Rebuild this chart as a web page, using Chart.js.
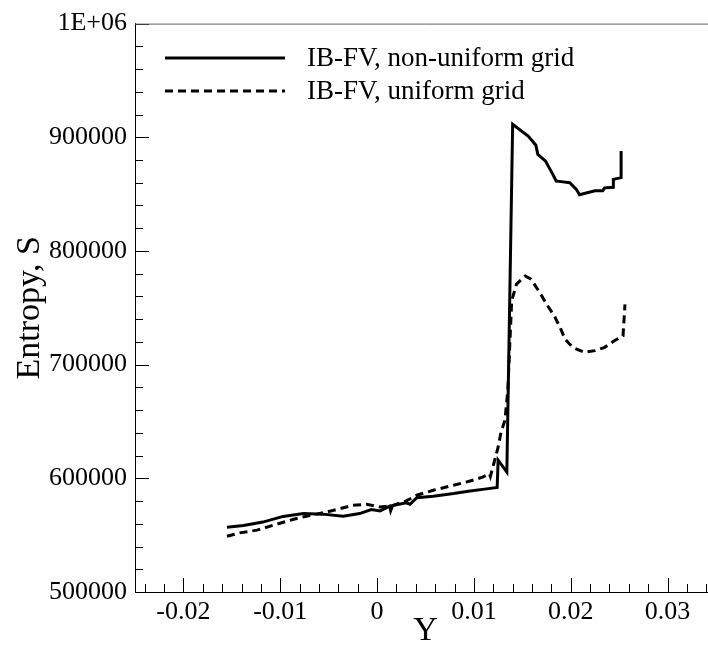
<!DOCTYPE html>
<html>
<head>
<meta charset="utf-8">
<script src="https://cdn.jsdelivr.net/npm/chart.js@4.4.0/dist/chart.umd.min.js"></script>
<style>
html, body { margin: 0; padding: 0; background: #fff; overflow: hidden; }
#wrap { position: relative; width: 720px; height: 651px; }
</style>
</head>
<body>
<div id="wrap"><canvas id="entropyChart"></canvas></div>
<script>
// positions (Y) and entropy values
var posNonUniform = [-0.0155, -0.0138, -0.0118, -0.0097, -0.0076, -0.0056, -0.0035, -0.0018, -0.0006, 0.0003,
    0.0013, 0.0014, 0.0016, 0.0030, 0.0034, 0.0041, 0.0058, 0.0079, 0.0096, 0.0111,
    0.0124, 0.0125, 0.0134, 0.0140, 0.0156, 0.0164, 0.0166, 0.0174, 0.0182, 0.0185,
    0.0190, 0.0199, 0.0206, 0.0209, 0.0216, 0.0225, 0.0233, 0.0235, 0.0244, 0.0244,
    0.0252, 0.0252];
var entropyNonUniform = [557000, 558500, 561500, 566500, 569000, 568500, 566700, 569000, 572500, 571300,
    575500, 571500, 576000, 578500, 577200, 583000, 584200, 586600, 588900, 590500,
    592000, 616000, 605500, 911500, 901000, 893000, 885000, 879000, 866500, 861500,
    861000, 860000, 854000, 849500, 851000, 853000, 853000, 855500, 856000, 863000,
    864500, 888000];

var posUniform = [-0.0155, -0.0142, -0.0124, -0.0104, -0.0087, -0.0073, -0.0052, -0.0038, -0.0025, -0.0011,
    0.0003, 0.0017, 0.0030, 0.0041, 0.0058, 0.0079, 0.0096, 0.0109, 0.0116, 0.0117,
    0.0125, 0.0128, 0.0132, 0.0135, 0.0139, 0.0144, 0.0153, 0.0159, 0.0168, 0.0175,
    0.0183, 0.0189, 0.0194, 0.0202, 0.0214, 0.0225, 0.0235, 0.0245, 0.0254, 0.0256];
var entropyUniform = [549000, 552000, 554400, 559600, 563800, 566700, 570400, 573400, 576300, 577200,
    574800, 576300, 580100, 585100, 589500, 593900, 597600, 601100, 604100, 601700,
    627400, 640600, 650900, 677200, 756100, 770800, 778000, 775200, 763400, 753200,
    743000, 732700, 722500, 715200, 710800, 712300, 715200, 721000, 725400, 753000];

var seriesLabels = ['IB-FV, non-uniform grid', 'IB-FV, uniform grid'];
var xTickValues = [-0.02, -0.01, 0, 0.01, 0.02, 0.03];
var xTickLabels = ['-0.02', '-0.01', '0', '0.01', '0.02', '0.03'];
var yTickValues = [500000, 600000, 700000, 800000, 900000, 1000000];
var yTickLabels = ['500000', '600000', '700000', '800000', '900000', '1E+06'];

var serif = '"Liberation Serif", "Times New Roman", serif';

function toPoints(xs, ys) {
    return xs.map(function (x, i) { return { x: x, y: ys[i] }; });
}

// ticks pointing into the plot, plus the thin top frame line
var innerTicks = {
    id: 'innerTicks',
    afterDatasetsDraw: function (chart) {
        var ctx = chart.ctx;
        var a = chart.chartArea;
        var xs = chart.scales.x, ys = chart.scales.y;
        ctx.save();
        ctx.strokeStyle = '#000';
        ctx.lineWidth = 1;
        ctx.beginPath();
        for (var v = -24; v <= 34; v += 2) {
            var px = Math.round(xs.getPixelForValue(v / 1000)) + 0.5;
            var len = (v % 10 === 0) ? 14 : 8;
            ctx.moveTo(px, a.bottom);
            ctx.lineTo(px, a.bottom - len);
        }
        for (var s = 500; s <= 1000; s += 20) {
            var py = Math.round(ys.getPixelForValue(s * 1000)) + 0.5;
            var l = (s % 100 === 0) ? 14 : 8;
            ctx.moveTo(a.left, py);
            ctx.lineTo(a.left + l, py);
        }
        ctx.stroke();
        ctx.strokeStyle = '#666';
        ctx.beginPath();
        ctx.moveTo(a.left, a.top + 0.5);
        ctx.lineTo(a.right, a.top + 0.5);
        ctx.stroke();
        ctx.restore();
    }
};

// legend drawn inside the plot, top-left
var lineLegend = {
    id: 'lineLegend',
    afterDraw: function (chart) {
        var ctx = chart.ctx;
        var rows = [58, 91];
        ctx.save();
        chart.data.datasets.forEach(function (ds, i) {
            ctx.strokeStyle = ds.borderColor;
            ctx.lineWidth = ds.borderWidth;
            ctx.setLineDash(ds.borderDash || []);
            ctx.beginPath();
            ctx.moveTo(165, rows[i]);
            ctx.lineTo(285, rows[i]);
            ctx.stroke();
            ctx.setLineDash([]);
            ctx.fillStyle = '#000';
            ctx.font = '27px ' + serif;
            ctx.textBaseline = 'middle';
            ctx.fillText(ds.label, 307, rows[i] + 1);
        });
        ctx.restore();
    }
};

var ctx = document.getElementById('entropyChart').getContext('2d');
var chart = new Chart(ctx, {
    type: 'scatter',
    data: {
        datasets: [
            {
                label: seriesLabels[0],
                data: toPoints(posNonUniform, entropyNonUniform),
                showLine: true,
                borderColor: '#000',
                borderWidth: 3,
                pointRadius: 0,
                fill: false
            },
            {
                label: seriesLabels[1],
                data: toPoints(posUniform, entropyUniform),
                showLine: true,
                borderColor: '#000',
                borderWidth: 3,
                borderDash: [8, 5],
                pointRadius: 0,
                fill: false
            }
        ]
    },
    options: {
        responsive: true,
        maintainAspectRatio: false,
        animation: false,
        layout: { padding: { top: 22, left: 0, right: 4, bottom: 0 } },
        plugins: {
            legend: { display: false },
            tooltip: { enabled: false }
        },
        scales: {
            x: {
                type: 'linear',
                min: -0.025,
                max: 0.035,
                afterBuildTicks: function (scale) {
                    scale.ticks = xTickValues.map(function (v) { return { value: v }; });
                },
                afterFit: function (scale) { scale.height = 59; },
                grid: { drawOnChartArea: false, drawTicks: false },
                border: { display: true, color: '#000', width: 1 },
                ticks: {
                    autoSkip: false,
                    maxRotation: 0,
                    padding: 5,
                    color: '#000',
                    font: { family: serif, size: 26 },
                    callback: function (value, index) { return xTickLabels[index]; }
                },
                title: {
                    display: true,
                    text: 'Y',
                    color: '#000',
                    font: { family: serif, size: 34 },
                    padding: { top: 0, bottom: 0 }
                }
            },
            y: {
                type: 'linear',
                min: 500000,
                max: 1000000,
                afterBuildTicks: function (scale) {
                    scale.ticks = yTickValues.map(function (v) { return { value: v }; });
                },
                afterFit: function (scale) { scale.width = 135; },
                grid: { drawOnChartArea: false, drawTicks: false },
                border: { display: true, color: '#000', width: 1 },
                ticks: {
                    padding: 8,
                    color: '#000',
                    font: { family: serif, size: 26 },
                    callback: function (value, index) { return yTickLabels[index]; }
                },
                title: {
                    display: true,
                    text: 'Entropy, S',
                    color: '#000',
                    font: { family: serif, size: 34 },
                    padding: { top: 10, bottom: 0 }
                }
            }
        }
    },
    plugins: [innerTicks, lineLegend]
});
</script>
</body>
</html>
